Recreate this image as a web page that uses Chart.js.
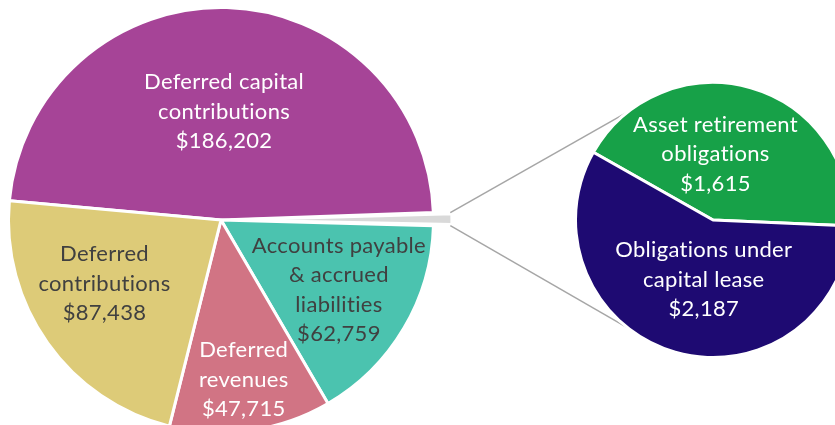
<!DOCTYPE html>
<html>
<head>
<meta charset="utf-8">
<script src="https://cdn.jsdelivr.net/npm/chart.js@4/dist/chart.umd.min.js"></script>
<style>
  html, body { margin: 0; padding: 0; background: #fff; overflow: hidden; }
  #wrap { position: relative; width: 835px; height: 425px; overflow: hidden; }
  #wrap canvas { position: absolute; left: 0; top: 0; }
</style>
</head>
<body>
<div id="wrap">
  <canvas id="mainPie" width="835" height="445"></canvas>
  <canvas id="subPie" width="835" height="445"></canvas>
</div>
<script>
// split of the small grey slice (second pie)
var subNames = [['Asset retirement', 'obligations'], ['Obligations under', 'capital lease']];
var subValues = [1615, 2187];
var subColors = ['#17A148', '#1E0A72'];
var subText = ['#FFFFFF', '#FFFFFF'];

// main pie, clockwise starting with the big purple slice
var mainNames = [['Deferred capital', 'contributions'], ['Other'], ['Accounts payable', '& accrued', 'liabilities'], ['Deferred', 'revenues'], ['Deferred', 'contributions']];
var mainValues = [186202, subValues[0] + subValues[1], 62759, 47715, 87438];
var mainColors = ['#A64497', '#D9D9D9', '#4BC3AF', '#D17484', '#DDCB78'];
var mainText = ['#FFFFFF', null, '#404040', '#FFFFFF', '#404040'];

// where each label sits: fraction of radius, turn from the slice middle (deg)
var mainLabelR = [0.51, 0, 0.645, 0.76, 0.625];
var mainLabelTurn = [0, 0, 0, 0, 6.7];
var subLabelR = [0.48, 0.44];
var subLabelTurn = [-13.8, -7.2];

var FONT = '22px Lato';
var LINE_H = 29.5;

var fmt = function(v){
  return '$' + v.toLocaleString('en-US');
};

var labelPlugin = function(names, values, colors, radius, turn){
  return {
    id: 'sliceLabels',
    afterDatasetsDraw: function(chart){
      var ctx = chart.ctx;
      var arcs = chart.getDatasetMeta(0).data;
      ctx.save();
      ctx.font = FONT;
      ctx.letterSpacing = '0.3px';
      ctx.textAlign = 'center';
      ctx.textBaseline = 'middle';
      for(var i = 0; i < arcs.length; i++){
        if(!colors[i]) continue;
        var p = arcs[i].getProps(['x', 'y', 'startAngle', 'endAngle', 'outerRadius'], true);
        var a = (p.startAngle + p.endAngle) / 2 + turn[i] * Math.PI / 180;
        var r = p.outerRadius * radius[i];
        var cx = p.x + Math.cos(a) * r;
        var cy = p.y + Math.sin(a) * r;
        var lines = names[i].concat([fmt(values[i])]);
        ctx.fillStyle = colors[i];
        for(var k = 0; k < lines.length; k++){
          ctx.fillText(lines[k], cx, cy + (k - (lines.length - 1) / 2) * LINE_H);
        }
      }
      ctx.restore();
    }
  };
};

var mainChart;

// grey lines from the "Other" slice to the second pie
var connectorPlugin = {
  id: 'connectors',
  beforeDatasetsDraw: function(chart){
    if(!mainChart) return;
    var g = mainChart.getDatasetMeta(0).data[1];
    var gp = g.getProps(['x', 'y', 'startAngle', 'endAngle', 'outerRadius', 'circumference'], true);
    var off = mainChart.data.datasets[0].offset[1] / 4;
    var shift = off * (2 - Math.sin(Math.min(Math.PI, gp.circumference)));
    var mid = (gp.startAngle + gp.endAngle) / 2;
    var ox = gp.x + Math.cos(mid) * shift;
    var oy = gp.y + Math.sin(mid) * shift;
    var R = gp.outerRadius - 1.5;
    var s = chart.getDatasetMeta(0).data[0].getProps(['x', 'y', 'outerRadius'], true);
    var sr = s.outerRadius - 1.5;
    var ctx = chart.ctx;
    ctx.save();
    ctx.strokeStyle = '#A6A6A6';
    ctx.lineWidth = 1.5;
    [gp.startAngle, gp.endAngle].forEach(function(ang, j){
      var px = ox + Math.cos(ang) * R;
      var py = oy + Math.sin(ang) * R;
      var d = Math.hypot(px - s.x, py - s.y);
      var base = Math.atan2(py - s.y, px - s.x);
      var delta = Math.acos(sr / d);
      var t1 = base + delta, t2 = base - delta;
      var y1 = s.y + Math.sin(t1) * sr, y2 = s.y + Math.sin(t2) * sr;
      var t = j == 0 ? (y1 < y2 ? t1 : t2) : (y1 < y2 ? t2 : t1);
      ctx.beginPath();
      ctx.moveTo(px, py);
      ctx.lineTo(s.x + Math.cos(t) * sr, s.y + Math.sin(t) * sr);
      ctx.stroke();
    });
    ctx.restore();
  }
};

mainChart = new Chart(document.getElementById('mainPie'), {
  type: 'pie',
  data: {
    labels: mainNames.map(function(n){ return n.join(' '); }),
    datasets: [{
      data: mainValues,
      backgroundColor: mainColors,
      borderColor: '#FFFFFF',
      borderWidth: 3,
      offset: [0, 38, 0, 0, 0]
    }]
  },
  options: {
    responsive: false,
    animation: false,
    events: [],
    rotation: -84.8,
    radius: 212.5,
    layout: {padding: {left: 0, right: 393, top: 0, bottom: 5}},
    plugins: {legend: {display: false}, tooltip: {enabled: false}}
  },
  plugins: [labelPlugin(mainNames, mainValues, mainText, mainLabelR, mainLabelTurn)]
});

new Chart(document.getElementById('subPie'), {
  type: 'pie',
  data: {
    labels: subNames.map(function(n){ return n.join(' '); }),
    datasets: [{
      data: subValues,
      backgroundColor: subColors,
      borderColor: '#FFFFFF',
      borderWidth: 3
    }]
  },
  options: {
    responsive: false,
    animation: false,
    events: [],
    rotation: -60.5,
    radius: 137.5,
    layout: {padding: {left: 591, right: 0, top: 0, bottom: 5}},
    plugins: {legend: {display: false}, tooltip: {enabled: false}}
  },
  plugins: [connectorPlugin, labelPlugin(subNames, subValues, subText, subLabelR, subLabelTurn)]
});
</script>
</body>
</html>
